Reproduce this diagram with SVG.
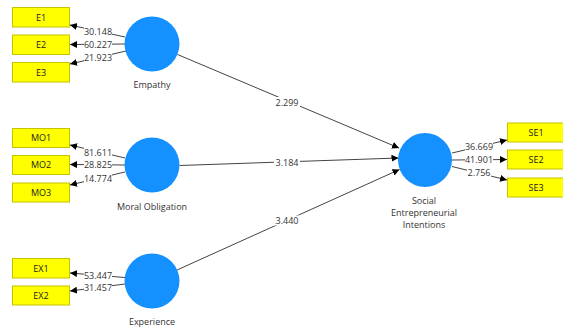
<svg xmlns="http://www.w3.org/2000/svg" width="563" height="331" viewBox="0 0 563 331">
<style>
  .ind rect { fill: #ffff00; stroke: #c4c400; stroke-width: 1; }
  .ind text { font-family: "Open Sans", "Noto Sans", "DejaVu Sans", sans-serif; font-size: 9px; fill: #222; text-anchor: middle; }
  .lv circle { fill: #1591ff; }
  .lv text { font-family: "Open Sans", "Noto Sans", "DejaVu Sans", sans-serif; font-size: 9px; fill: #333; text-anchor: middle; }
  .conn line { stroke: #444; stroke-width: 1; fill: none; }
  .lbl rect { fill: #ffffff; }
  .lbl text { font-family: "Open Sans", "Noto Sans", "DejaVu Sans", sans-serif; font-size: 9px; fill: #333; text-anchor: middle; dominant-baseline: central; }
</style>
<defs>
  <marker id="arr" markerUnits="userSpaceOnUse" markerWidth="8" markerHeight="8" refX="7" refY="3.5" orient="auto">
    <path d="M0,0 L7,3.5 L0,7 Z" fill="#000"/>
  </marker>
</defs>
<rect x="0" y="0" width="563" height="331" fill="#ffffff"/>

<g id="connectors" class="conn">
  <line x1="125" y1="37" x2="70" y2="25" marker-end="url(#arr)"/>
  <line x1="125" y1="44" x2="70" y2="44.5" marker-end="url(#arr)"/>
  <line x1="126" y1="51" x2="70" y2="64" marker-end="url(#arr)"/>
  <line x1="125" y1="158" x2="70" y2="145" marker-end="url(#arr)"/>
  <line x1="125" y1="165" x2="70" y2="164.5" marker-end="url(#arr)"/>
  <line x1="125" y1="172" x2="70" y2="185" marker-end="url(#arr)"/>
  <line x1="125" y1="277.5" x2="70" y2="273" marker-end="url(#arr)"/>
  <line x1="125" y1="284" x2="70" y2="291" marker-end="url(#arr)"/>
  <line x1="452" y1="153" x2="507" y2="140" marker-end="url(#arr)"/>
  <line x1="452" y1="160" x2="507" y2="159.5" marker-end="url(#arr)"/>
  <line x1="452" y1="166.5" x2="507" y2="180" marker-end="url(#arr)"/>
  <line x1="177.5" y1="54.5" x2="399" y2="148" marker-end="url(#arr)"/>
  <line x1="179.5" y1="165.5" x2="398.5" y2="158" marker-end="url(#arr)"/>
  <line x1="177" y1="270" x2="399.5" y2="169.5" marker-end="url(#arr)"/>
  <g class="lbl">
    <rect x="84" y="26" width="28" height="10"/><text x="98" y="31">30.148</text>
    <rect x="84" y="39.5" width="28" height="10"/><text x="98" y="44.5">60.227</text>
    <rect x="84" y="52.5" width="28" height="10"/><text x="98" y="57.5">21.923</text>
    <rect x="84" y="147" width="28" height="10"/><text x="98" y="152">81.611</text>
    <rect x="84" y="159.5" width="28" height="10"/><text x="98" y="164.5">28.825</text>
    <rect x="84" y="173.5" width="28" height="10"/><text x="98" y="178.5">14.774</text>
    <rect x="84" y="270" width="28" height="10"/><text x="98" y="275">53.447</text>
    <rect x="84" y="282.5" width="28" height="10"/><text x="98" y="287.5">31.457</text>
    <rect x="465" y="141.5" width="28" height="10"/><text x="479" y="146.5">36.669</text>
    <rect x="465" y="154.5" width="28" height="10"/><text x="479" y="159.5">41.901</text>
    <rect x="467" y="167" width="24" height="10"/><text x="479" y="172">2.756</text>
    <rect x="274" y="97" width="26" height="10"/><text x="287" y="102">2.299</text>
    <rect x="274" y="157.5" width="26" height="10"/><text x="287" y="162.5">3.184</text>
    <rect x="274" y="215.5" width="26" height="10"/><text x="287" y="220.5">3.440</text>
  </g>
</g>

<g id="E1" class="ind"><rect x="12.5" y="7.5" width="57" height="19.5"/><text x="41" y="20.5">E1</text></g>
<g id="E2" class="ind"><rect x="12.5" y="35" width="57" height="19.5"/><text x="41" y="48">E2</text></g>
<g id="E3" class="ind"><rect x="12.5" y="62.5" width="57" height="19.5"/><text x="41" y="75.5">E3</text></g>
<g id="MO1" class="ind"><rect x="12.5" y="128.5" width="57" height="19"/><text x="41" y="141">MO1</text></g>
<g id="MO2" class="ind"><rect x="12.5" y="155.5" width="57" height="19"/><text x="41" y="168">MO2</text></g>
<g id="MO3" class="ind"><rect x="12.5" y="183" width="57" height="19"/><text x="41" y="195.5">MO3</text></g>
<g id="EX1" class="ind"><rect x="12.5" y="258.5" width="57" height="19.5"/><text x="41" y="271.5">EX1</text></g>
<g id="EX2" class="ind"><rect x="12.5" y="286" width="57" height="19"/><text x="41" y="298.5">EX2</text></g>
<g id="SE1" class="ind"><rect x="507.5" y="123" width="57" height="19"/><text x="536" y="135.5">SE1</text></g>
<g id="SE2" class="ind"><rect x="507.5" y="150" width="57" height="19"/><text x="536" y="162.5">SE2</text></g>
<g id="SE3" class="ind"><rect x="507.5" y="178" width="57" height="19"/><text x="536" y="190.5">SE3</text></g>

<g id="Empathy" class="lv"><circle cx="152" cy="44" r="27.5"/><text x="152" y="88">Empathy</text></g>
<g id="MoralObligation" class="lv"><circle cx="152" cy="165" r="27.5"/><text x="152" y="210">Moral Obligation</text></g>
<g id="Experience" class="lv"><circle cx="152" cy="281" r="27.5"/><text x="152" y="325">Experience</text></g>
<g id="SocialEntrepreneurialIntentions" class="lv"><circle cx="425" cy="160" r="27"/>
  <text x="424" y="204">Social</text>
  <text x="424" y="216">Entrepreneurial</text>
  <text x="424" y="228">Intentions</text>
</g>
</svg>
